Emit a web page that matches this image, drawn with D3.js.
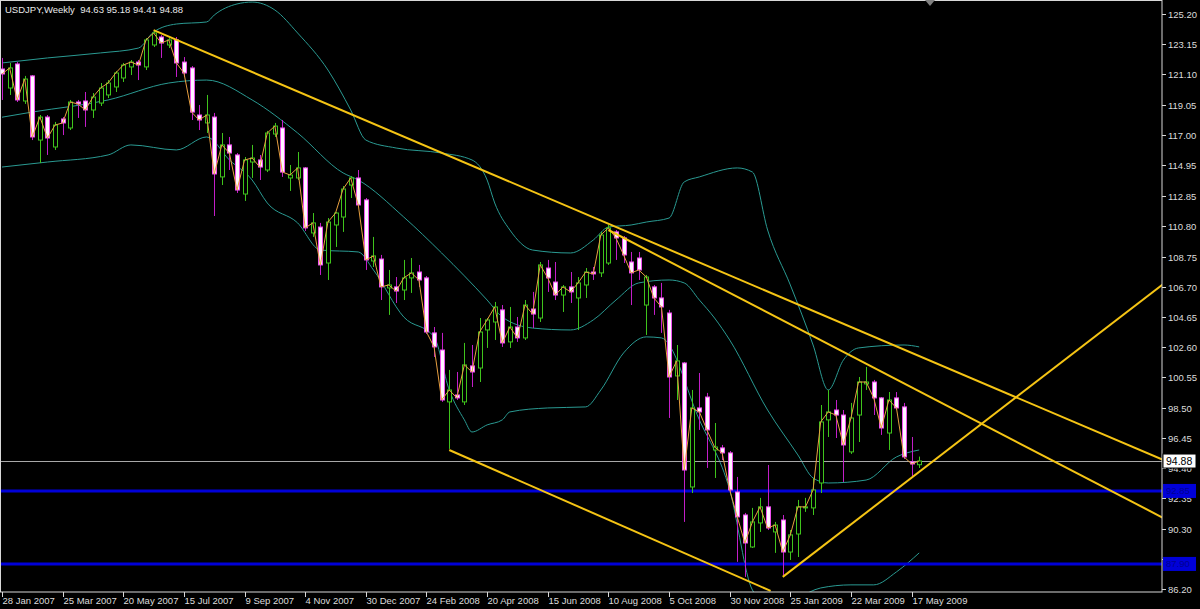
<!DOCTYPE html>
<html><head><meta charset="utf-8">
<script src="https://cdn.jsdelivr.net/npm/d3@7"></script>
<style>html,body{margin:0;padding:0;background:#000;}svg{display:block;}</style>
</head><body>
<svg id="c" width="1200" height="609"></svg>
<script>
// ---------------- DATA ----------------
const chartTitle = "USDJPY,Weekly";
const lastQuote = [94.63, 95.18, 94.41, 94.88];   // O H L C of the last bar
const bidPrice = 94.88;

const dateLabels = ["28 Jan 2007","25 Mar 2007","20 May 2007","15 Jul 2007","9 Sep 2007","4 Nov 2007",
  "30 Dec 2007","24 Feb 2008","20 Apr 2008","15 Jun 2008","10 Aug 2008","5 Oct 2008",
  "30 Nov 2008","25 Jan 2009","22 Mar 2009","17 May 2009"];
const dateLabelBars = [0,8,16,24,32,40,48,56,64,72,80,88,96,104,112,120];

const priceTicks = ["125.20","123.15","121.10","119.05","117.00","114.95","112.85","110.80","108.75",
  "106.70","104.65","102.60","100.55","98.50","96.45","94.40","92.35","90.30","88.25","86.20"];

const opens = [121.47,120.18,121.81,119.30,121.00,116.65,118.21,116.18,118.08,117.47,
  119.23,119.30,118.69,119.16,119.71,120.25,120.86,121.61,121.94,121.61,
  123.10,123.64,123.10,123.44,121.94,121.54,118.35,117.81,118.21,114.15,
  116.32,115.64,112.99,115.16,115.30,114.62,117.06,117.47,114.08,114.08,
  114.76,110.35,110.75,108.31,110.89,111.43,113.60,114.08,112.59,108.45,
  108.58,106.62,106.69,106.48,107.30,107.70,107.30,103.57,102.41,98.89,
  99.36,98.89,101.33,101.19,103.77,104.31,105.13,102.96,103.97,103.23,
  105.19,104.58,107.97,107.02,106.14,106.69,105.94,106.82,107.70,107.64,
  108.31,110.42,110.01,108.38,108.65,105.46,106.69,105.94,104.92,100.65,
  101.53,93.12,98.48,99.22,95.63,95.77,95.43,92.78,91.22,89.05,
  90.68,91.77,90.07,90.88,88.71,89.93,91.70,91.70,93.39,97.67,
  98.34,98.00,95.50,98.00,100.11,100.24,99.16,96.78,99.16,98.55,
  94.82,94.63];
const highs = [122.22,121.88,121.94,121.00,121.06,118.35,118.35,117.88,118.21,119.37,
  119.37,119.91,119.84,120.52,120.72,121.33,121.88,122.08,122.08,123.57,
  124.11,123.78,123.57,123.64,122.28,121.67,119.03,119.71,118.49,117.13,
  116.86,115.77,115.50,116.32,115.64,117.27,117.81,118.01,114.96,115.84,
  114.82,111.70,111.03,111.36,111.77,113.53,114.21,114.62,112.72,110.08,
  108.86,107.84,107.36,108.52,108.65,108.18,107.43,103.97,103.57,101.06,
  100.92,102.89,102.75,104.58,104.58,105.67,105.46,105.33,104.65,105.80,
  106.35,108.38,108.52,108.38,106.82,107.70,107.36,107.97,108.04,110.42,
  110.89,110.55,110.14,109.06,109.06,107.50,106.82,106.96,105.13,102.75,
  101.60,99.70,100.85,99.50,97.46,95.97,95.56,93.80,91.36,91.70,
  92.38,94.61,90.75,91.22,90.20,92.24,92.38,93.73,98.68,99.70,
  99.02,98.34,98.82,100.58,101.26,100.38,99.22,99.56,99.56,98.82,
  96.51,95.18];
const lows = [119.37,119.71,119.23,119.10,116.65,115.09,115.64,115.98,116.99,117.33,
  118.15,117.54,118.15,118.96,119.50,119.91,120.59,121.06,120.72,121.40,
  122.96,122.22,122.89,120.93,120.93,118.01,117.33,117.13,111.50,113.60,
  114.62,113.06,112.52,114.08,113.94,114.48,116.86,114.15,113.20,113.94,
  110.48,110.08,107.50,107.16,109.40,110.42,112.72,112.11,107.84,108.04,
  105.80,104.79,105.60,105.80,106.28,106.69,103.50,101.94,98.89,95.70,
  99.02,98.68,99.90,100.24,102.55,103.09,102.62,102.55,102.96,103.09,
  103.90,104.31,106.35,105.80,104.99,105.60,103.77,105.94,107.16,107.36,
  108.18,108.52,108.31,105.46,107.16,103.43,104.79,103.57,97.80,99.02,
  90.75,92.71,96.99,94.41,93.73,94.95,92.71,88.04,87.02,88.98,
  90.07,90.20,88.65,87.09,88.17,88.37,91.43,91.22,92.71,96.51,
  96.44,93.46,95.36,96.17,99.70,98.00,96.65,95.63,98.34,95.02,
  93.80,94.41];
const closes = [121.13,121.54,119.37,120.79,116.86,118.21,116.79,117.67,117.81,119.23,
  119.10,118.69,119.57,120.18,120.52,121.20,121.74,121.94,121.74,123.44,
  123.91,123.23,123.44,121.88,121.20,118.55,118.01,118.35,114.35,116.32,
  115.77,113.26,115.30,115.43,114.82,117.13,117.60,114.48,114.28,114.76,
  110.69,111.03,108.18,111.09,111.70,113.33,114.08,112.25,108.52,108.79,
  106.69,106.82,106.41,107.30,107.64,107.16,103.63,102.62,99.02,99.70,
  99.16,101.40,100.92,103.63,104.45,105.33,102.89,103.97,103.23,105.46,
  104.85,108.18,107.30,106.14,106.69,106.35,106.96,107.70,107.57,110.21,
  110.69,110.01,108.86,107.64,107.84,107.36,105.94,105.33,100.58,101.67,
  94.27,98.48,98.21,96.99,95.83,95.43,92.92,91.09,89.32,90.75,
  91.77,90.34,90.54,88.71,89.87,91.77,91.77,92.92,97.53,98.21,
  98.00,95.97,97.80,100.24,100.24,99.16,97.12,99.02,98.48,95.16,
  94.68,94.88];

// Bollinger bands: [bar index, price]
const upperBand = [[0,121.88],[6,122.22],[13,122.56],[18,122.89],[20,123.98],[23,124.52],[27,124.66],
  [28,125.13],[31,125.88],[33,126.01],[36,125.47],[39,123.91],[43,121.40],[46,118.69],[48,116.65],
  [52,116.11],[58,115.77],[62,115.30],[64,113.94],[65,112.38],[67,110.55],[70,109.19],[75,108.99],
  [78,109.87],[80,110.75],[83,110.89],[85,111.09],[88,111.36],[90,113.81],[92,114.15],[97,114.76],
  [99,114.48],[101,110.55],[104,106.82],[107,102.75],[109,99.70],[111,101.73],[113,102.55],
  [119,102.75],[121,102.62]];
const middleBand = [[0,118.20],[4,118.55],[14,119.37],[22,120.52],[27,120.72],[33,119.37],[39,117.13],
  [45,114.42],[47,113.94],[53,111.43],[58,108.99],[64,105.80],[66,104.65],[70,103.90],[75,103.77],
  [78,104.45],[81,105.80],[84,106.96],[88,107.16],[90,106.96],[92,105.80],[94,104.58],[96,103.09],
  [101,98.34],[105,95.29],[107,93.73],[109,93.39],[114,93.59],[118,95.16],[121,95.63]];
const lowerBand = [[0,114.82],[6,115.16],[14,115.64],[17,116.32],[23,115.98],[27,116.86],[30,115.30],
  [33,113.94],[35,112.38],[39,111.03],[42,109.19],[47,109.06],[49,107.84],[53,104.65],[57,103.30],
  [59,99.70],[61,97.67],[62,96.85],[64,97.33],[66,97.67],[67,98.21],[72,98.48],[77,98.55],[79,99.70],
  [82,102.21],[85,103.30],[87,103.23],[92,97.67],[96,92.92],[99,86.13],[102,84.78],[105,85.59],
  [108,86.27],[112,86.48],[115,86.48],[118,87.36],[121,88.65]];

// Hand-drawn trend lines: start/end as [bar index, price]
const trendLines = [
  [[20,124.11],[153.2,94.95]],
  [[80,110.55],[153.2,91.02]],
  [[59,95.63],[101.4,86.07]],
  [[103,87.02],[153.2,106.89]]
];
const levelLines = [92.85, 87.90];
const levelLabels = ["92.85", "87.90"];

// ---------------- DRAW ----------------
const W = 1200, H = 609;
const plotRight = 1162, plotBottom = 592;
const svg = d3.select("#c");
svg.append("rect").attr("width", W).attr("height", H).attr("fill", "#000");

const x = d3.scaleLinear().domain([0, 121]).range([2, 919.2]);
const y = d3.scaleLinear().domain([86.20, 125.20]).range([589, 14]);

svg.append("clipPath").attr("id", "plot")
  .append("rect").attr("x", 1).attr("y", 1).attr("width", plotRight - 1).attr("height", plotBottom - 1);
const g = svg.append("g").attr("clip-path", "url(#plot)");

// Bollinger bands
const bandLine = d3.line().x(d => x(d[0])).y(d => y(d[1])).curve(d3.curveMonotoneX);
[upperBand, middleBand, lowerBand].forEach(b => {
  g.append("path").attr("d", bandLine(b)).attr("fill", "none")
    .attr("stroke", "#2a9a92").attr("stroke-width", 1);
});

// horizontal levels
levelLines.forEach(v => {
  g.append("line").attr("x1", 0).attr("x2", plotRight).attr("y1", y(v)).attr("y2", y(v))
    .attr("stroke", "#0000d8").attr("stroke-width", 3);
});
// bid line
g.append("line").attr("x1", 0).attr("x2", plotRight).attr("y1", Math.round(y(bidPrice)) + 0.5)
  .attr("y2", Math.round(y(bidPrice)) + 0.5).attr("stroke", "#a8a8a8").attr("stroke-width", 1);

// candles
const idx = d3.range(opens.length);
const bull = i => closes[i] >= opens[i];
const cg = g.append("g");
cg.selectAll("line.wick").data(idx).join("line")
  .attr("x1", i => Math.round(x(i)) + 0.5).attr("x2", i => Math.round(x(i)) + 0.5)
  .attr("y1", i => y(highs[i])).attr("y2", i => y(lows[i]))
  .attr("stroke", i => bull(i) ? "#3fc41c" : "#c21ec8").attr("stroke-width", 1);
cg.selectAll("rect.body").data(idx).join("rect")
  .attr("x", i => Math.round(x(i)) - 1.5).attr("width", 4)
  .attr("y", i => y(Math.max(opens[i], closes[i])))
  .attr("height", i => Math.max(1, Math.abs(y(opens[i]) - y(closes[i]))))
  .attr("fill", i => bull(i) ? "#000" : "#fff4ff")
  .attr("stroke", i => bull(i) ? "#3fc41c" : "#f050f0").attr("stroke-width", 1);

// close line
g.append("path").datum(idx)
  .attr("d", d3.line().x(i => x(i)).y(i => y(closes[i])))
  .attr("fill", "none").attr("stroke", "#e8a040").attr("stroke-width", 1);

// trend lines
trendLines.forEach(t => {
  g.append("line").attr("x1", x(t[0][0])).attr("y1", y(t[0][1]))
    .attr("x2", x(t[1][0])).attr("y2", y(t[1][1]))
    .attr("stroke", "#f5c414").attr("stroke-width", 2);
});

// frame
svg.append("rect").attr("x", 0.5).attr("y", 0.5).attr("width", plotRight - 0.5).attr("height", plotBottom - 0.5)
  .attr("fill", "none").attr("stroke", "#d8d8d8").attr("stroke-width", 1);

// shift marker
svg.append("path").attr("d", "M925,0 L935,0 L930,6 Z").attr("fill", "#808080");

const font = "Liberation Sans, Arial, sans-serif";
// right axis
const ra = svg.append("g");
priceTicks.forEach(t => {
  const yy = Math.round(y(+t)) + 0.5;
  ra.append("line").attr("x1", plotRight).attr("x2", plotRight + 4).attr("y1", yy).attr("y2", yy)
    .attr("stroke", "#d8d8d8");
  ra.append("text").attr("x", plotRight + 6).attr("y", yy + 3.5).text(t)
    .attr("fill", "#dcdcdc").attr("font-family", font).attr("font-size", 9.5);
});
// level boxes
levelLines.forEach((v, k) => {
  const yy = y(v);
  ra.append("rect").attr("x", plotRight + 1).attr("y", yy - 7).attr("width", 33).attr("height", 14)
    .attr("fill", "#0000d8");
  ra.append("text").attr("x", plotRight + 4).attr("y", yy + 3.5).text(levelLabels[k])
    .attr("fill", "#000090").attr("font-family", font).attr("font-size", 9.5);
});
// bid box
ra.append("rect").attr("x", plotRight + 1).attr("y", y(bidPrice) - 7).attr("width", 33).attr("height", 14)
  .attr("fill", "#fff").attr("stroke", "#000");
ra.append("text").attr("x", plotRight + 4).attr("y", y(bidPrice) + 4).text(bidPrice.toFixed(2))
  .attr("fill", "#000").attr("font-family", font).attr("font-size", 10.5);

// bottom axis
const ba = svg.append("g");
dateLabels.forEach((t, k) => {
  const xx = Math.round(x(dateLabelBars[k])) + 0.5;
  ba.append("line").attr("x1", xx).attr("x2", xx).attr("y1", plotBottom).attr("y2", plotBottom + 5)
    .attr("stroke", "#d8d8d8");
  ba.append("text").attr("x", xx).attr("y", 604).text(t)
    .attr("fill", "#dcdcdc").attr("font-family", font).attr("font-size", 9.5);
});

// title
svg.append("text").attr("x", 5).attr("y", 13)
  .text(chartTitle + "  " + lastQuote.map(v => v.toFixed(2)).join(" "))
  .attr("fill", "#e8e8e8").attr("font-family", font).attr("font-size", 9.5)
  .attr("xml:space", "preserve").style("white-space", "pre");
</script>
</body></html>
